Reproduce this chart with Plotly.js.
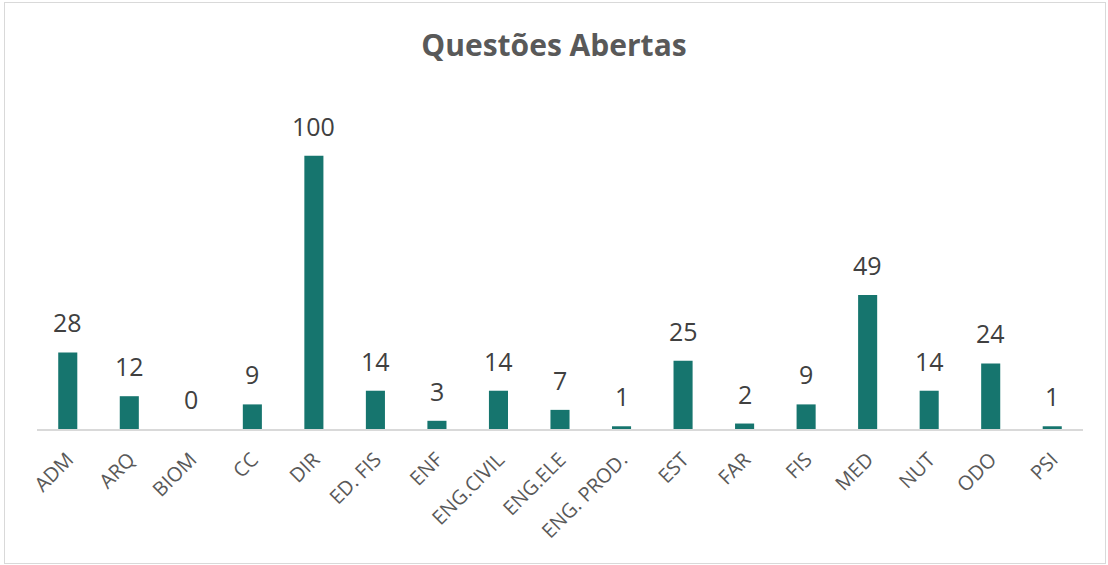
<!DOCTYPE html>
<html>
<head>
<meta charset="utf-8">
<script src="https://cdn.plot.ly/plotly-3.0.1.min.js"></script>
<style>
  body { margin: 0; background: #fff; }
  #myDiv { position: absolute; left: 0; top: 0; width: 1108px; height: 565px; }
  #frame { position: absolute; left: 4px; top: 2px; width: 1100px; height: 560px; border: 1.5px solid #d9d9d9; pointer-events: none; }
</style>
</head>
<body>
<div id="myDiv"></div>
<div id="frame"></div>
<script>
var cursos = ["ADM", "ARQ", "BIOM", "CC", "DIR", "ED. FIS", "ENF", "ENG.CIVIL", "ENG.ELE", "ENG. PROD.", "EST", "FAR", "FIS", "MED", "NUT", "ODO", "PSI"];
var respostas = [28, 12, 0, 9, 100, 14, 3, 14, 7, 1, 25, 2, 9, 49, 14, 24, 1];

var font = "Open Sans, Liberation Sans, sans-serif";

var trace = {
  x: cursos,
  y: respostas,
  type: 'bar',
  marker: { color: '#16756e', line: { width: 0 } },
  hoverinfo: 'x+y'
};

// value labels above each bar
var labels = [];
for (let i = 0; i < cursos.length; i++) {
  labels.push({
    x: cursos[i],
    y: respostas[i],
    text: String(respostas[i]),
    showarrow: false,
    yanchor: 'bottom',
    yshift: 11,
    font: { family: font, size: 25, color: '#404040' }
  });
}

var layout = {
  width: 1108,
  height: 565,
  margin: { l: 37, r: 25, t: 101, b: 136 },
  paper_bgcolor: '#fff',
  plot_bgcolor: '#fff',
  bargap: 0.69,
  title: {
    text: '<b>Questões Abertas</b>',
    font: { family: font, size: 30, color: '#595959' },
    x: 0.5,
    xanchor: 'center',
    y: 0.92,
    yanchor: 'middle'
  },
  xaxis: {
    type: 'category',
    tickangle: -45,
    showgrid: false,
    showline: true,
    linecolor: '#d9d9d9',
    linewidth: 2,
    ticks: '',
    ticklabelstandoff: 9,
    tickfont: { family: font, size: 20, color: '#595959' }
  },
  yaxis: {
    range: [0, 120],
    visible: false,
    showgrid: false,
    zeroline: false
  },
  annotations: labels,
  showlegend: false
};

Plotly.newPlot('myDiv', [trace], layout, { displayModeBar: false, staticPlot: true });
</script>
</body>
</html>
